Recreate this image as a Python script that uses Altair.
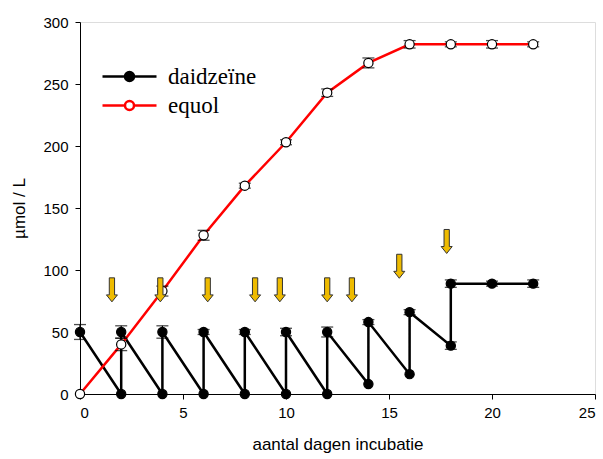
import altair as alt
import pandas as pd

# daidzeïne (black, filled)
dai_x = [0, 2, 2, 4, 4, 6, 6, 8, 8, 10, 10, 12, 12, 14, 14, 16, 16, 18, 18, 20, 22]
dai_y = [50, 0, 50, 0, 50, 0, 50, 0, 50, 0, 50, 0, 50, 8, 58, 16, 66, 39, 89, 89, 89]
dai_err = [6, 0, 5, 0, 5, 0, 2, 0, 2, 0, 3, 0, 4, 0, 2, 0, 2, 3, 3, 2, 3]

# equol (red line, open circles)
eq_x = [0, 2, 4, 6, 8, 10, 12, 14, 16, 18, 20, 22]
eq_y = [0, 40, 83, 128, 168, 203, 243, 267, 282, 282, 282, 282]
eq_err = [0, 5, 4, 4, 2, 2, 3, 4, 3, 2, 3, 2]

# addition arrows
arrow_x = [1.55, 3.9, 6.2, 8.5, 9.7, 12.0, 13.2, 15.5, 17.8]
arrow_y = [84, 84, 84, 84, 84, 84, 84, 103, 123]

series = ["daidzeïne", "equol"]

dai = pd.DataFrame({"x": dai_x, "y": dai_y, "err": dai_err, "series": series[0],
                    "idx": list(range(len(dai_x)))})
eq = pd.DataFrame({"x": eq_x, "y": eq_y, "err": eq_err, "series": series[1],
                   "idx": list(range(len(eq_x)))})
df = pd.concat([dai, eq], ignore_index=True)
df["lo"] = df["y"] - df["err"]
df["hi"] = df["y"] + df["err"]
err_df = df[df["err"] > 0]
arrows = pd.DataFrame({"x": arrow_x, "y": arrow_y})

xs = alt.Scale(domain=[0, 25], nice=False, zero=False)
ys = alt.Scale(domain=[0, 300], nice=False)

x_axis = alt.Axis(values=[0, 5, 10, 15, 20, 25], title="aantal dagen incubatie",
                  grid=False, tickSize=5, labelPadding=6, labelFontSize=15,
                  titleFontSize=17, titlePadding=16, titleFontWeight="normal",
                  domainColor="black", tickColor="black", labelColor="black",
                  titleColor="black", labelFont="Liberation Sans", titleFont="Liberation Sans")
y_axis = alt.Axis(values=[0, 50, 100, 150, 200, 250, 300], title="µmol / L",
                  grid=False, tickSize=5, labelPadding=7, labelFontSize=15,
                  titleFontSize=17, titlePadding=14, titleFontWeight="normal",
                  domainColor="black", tickColor="black", labelColor="black",
                  titleColor="black", labelFont="Liberation Sans", titleFont="Liberation Sans")

leg_symbol = "M-3,0L-0.5,0M0.5,0L3,0M0.5,0A0.5,0.5,0,1,1,-0.5,0A0.5,0.5,0,1,1,0.5,0Z"
legend = alt.Legend(title=None, orient="none", legendX=38, legendY=43,
                    symbolType=leg_symbol, symbolSize=324, symbolStrokeWidth=2.5,
                    labelFont="Liberation Serif", labelFontSize=23, labelColor="black",
                    labelOffset=27, rowPadding=5, padding=0, symbolOpacity=1)

base = alt.Chart(df)

lines = base.mark_line(strokeWidth=2.5).encode(
    x=alt.X("x:Q", scale=xs, axis=x_axis),
    y=alt.Y("y:Q", scale=ys, axis=y_axis),
    order="idx:Q",
    detail="series:N",
    stroke=alt.Stroke("series:N", scale=alt.Scale(domain=series, range=["black", "#ff0000"]),
                      legend=legend),
)

bars = alt.Chart(err_df).mark_rule(color="black", strokeWidth=1.2).encode(
    x="x:Q", y="lo:Q", y2="hi:Q")
cap_lo = alt.Chart(err_df).mark_tick(color="black", orient="horizontal", size=12,
                                     thickness=1.3).encode(x="x:Q", y="lo:Q")
cap_hi = alt.Chart(err_df).mark_tick(color="black", orient="horizontal", size=12,
                                     thickness=1.3).encode(x="x:Q", y="hi:Q")

points = base.mark_point(filled=True, size=85, stroke="black", strokeWidth=1.2,
                         opacity=1).encode(
    x="x:Q", y="y:Q",
    fill=alt.Fill("series:N", scale=alt.Scale(domain=series, range=["black", "white"]),
                  legend=legend),
)

arrow_shape = "M-0.22,-1L0.22,-1L0.22,0.42L0.46,0.42L0,1L-0.46,0.42L-0.22,0.42Z"
arrow_marks = alt.Chart(arrows).mark_point(shape=arrow_shape, size=576, filled=True,
                                           fill="#eebb00", stroke="#333333",
                                           strokeWidth=1, opacity=1).encode(
    x="x:Q", y="y:Q")

chart = alt.layer(lines, bars, cap_lo, cap_hi, points, arrow_marks).properties(
    width=515, height=372,
    autosize=alt.AutoSizeParams(type="none"),
    padding={"left": 80, "top": 22, "right": 8, "bottom": 65},
).configure_view(stroke=None).configure(background="white")

chart.save("out.html", embed_options={"renderer": "svg", "actions": False})
